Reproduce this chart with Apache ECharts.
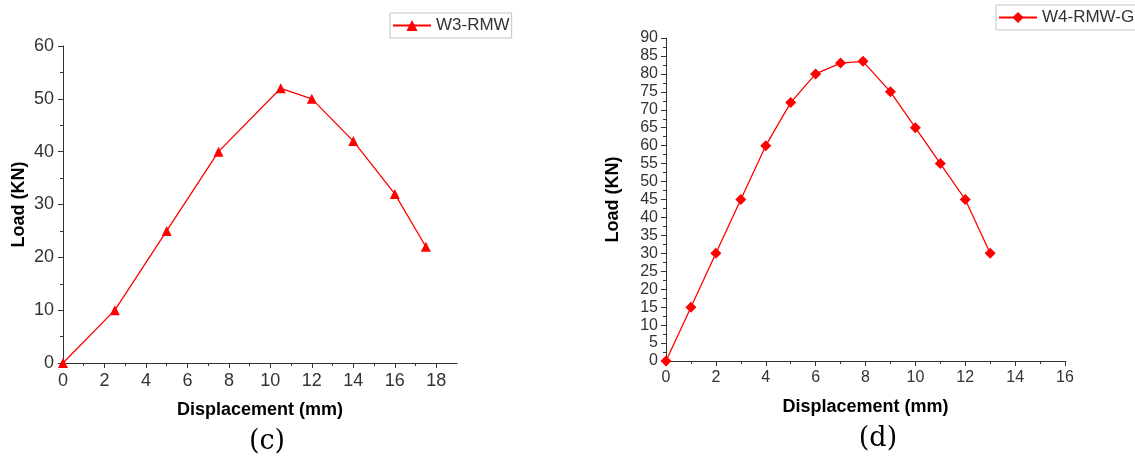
<!DOCTYPE html>
<html>
<head>
<meta charset="utf-8">
<script src="https://cdn.jsdelivr.net/npm/echarts@6/dist/echarts.min.js"></script>
<style>
  html, body { margin: 0; padding: 0; background: #fff; }
  #chart { width: 1135px; height: 461px; }
</style>
</head>
<body>
<div id="chart"></div>
<script>
// W3-RMW load–displacement readings
const w3Disp = [0, 2.5, 5, 7.5, 10.5, 12, 14, 16, 17.5];
const w3Load = [0, 10, 25, 40, 52, 50, 42, 32, 22];

// W4-RMW-G load–displacement readings
const w4Disp = [0, 1, 2, 3, 4, 5, 6, 7, 7.9, 9, 10, 11, 12, 13];
const w4Load = [0, 15, 30, 45, 60, 72, 80, 83, 83.5, 75, 65, 55, 45, 30];

// labelled ticks on the W3 displacement axis (axis runs to 19)
const w3XTicks = [0, 2, 4, 6, 8, 10, 12, 14, 16, 18];

const seriesNames = ['W3-RMW', 'W4-RMW-G'];
const captions = ['(c)', '(d)'];
const xTitle = 'Displacement (mm)';
const yTitle = 'Load (KN)';

const RED = '#ff0000';
const INK = '#333333';
const SANS = 'Liberation Sans, Arial, sans-serif';

function pairs(xs, ys) {
  return xs.map((x, i) => [x, ys[i]]);
}

function valueAxis(opts) {
  return Object.assign({
    type: 'value',
    axisLine: { show: true, lineStyle: { color: INK, width: 1 } },
    axisTick: { show: true, inside: false, length: 5, lineStyle: { color: INK } },
    minorTick: { show: true, splitNumber: 2, length: 3, lineStyle: { color: INK } },
    splitLine: { show: false },
    minorSplitLine: { show: false },
    axisLabel: { color: INK, fontFamily: SANS, fontSize: 18, margin: 9 },
    nameLocation: 'middle',
    nameTextStyle: { color: '#000', fontFamily: SANS, fontSize: 18, fontWeight: 'bold' }
  }, opts);
}

const chart = echarts.init(document.getElementById('chart'), null, { renderer: 'canvas' });

const captionStyle = { fontFamily: 'DejaVu Serif', fontSize: 27, fontWeight: 'normal', color: '#000' };

chart.setOption({
  animation: false,
  backgroundColor: '#ffffff',
  title: [
    { text: captions[0], left: 262, top: 423, textAlign: 'center', textStyle: captionStyle },
    { text: captions[1], left: 873, top: 420, textAlign: 'center', textStyle: captionStyle }
  ],
  legend: [
    {
      data: [seriesNames[0]], left: 390, top: 13,
      orient: 'horizontal', padding: [4, 2],
      borderColor: '#c4c4c4', borderWidth: 1,
      itemWidth: 38, itemHeight: 14,
      textStyle: { color: INK, fontFamily: SANS, fontSize: 17 }
    },
    {
      data: [seriesNames[1]], left: 996, top: 5,
      orient: 'horizontal', padding: [4, 2],
      borderColor: '#c4c4c4', borderWidth: 1,
      itemWidth: 38, itemHeight: 14,
      textStyle: { color: INK, fontFamily: SANS, fontSize: 17 }
    }
  ],
  grid: [
    { left: 63, top: 46, width: 394, height: 317, containLabel: false },
    { left: 666, top: 38, width: 399, height: 323, containLabel: false }
  ],
  xAxis: [
    valueAxis({
      gridIndex: 0, min: 0, max: 19, interval: 2,
      axisTick: { show: true, length: 5, lineStyle: { color: INK }, customValues: w3XTicks },
      axisLabel: { color: INK, fontFamily: SANS, fontSize: 18, margin: 9, customValues: w3XTicks },
      name: xTitle, nameGap: 38
    }),
    valueAxis({
      gridIndex: 1, min: 0, max: 16, interval: 2,
      axisLabel: { color: INK, fontFamily: SANS, fontSize: 16, margin: 9 },
      name: xTitle, nameGap: 37
    })
  ],
  yAxis: [
    valueAxis({
      gridIndex: 0, min: 0, max: 60, interval: 10,
      name: yTitle, nameGap: 35
    }),
    valueAxis({
      gridIndex: 1, min: 0, max: 90, interval: 5,
      axisLabel: { color: INK, fontFamily: SANS, fontSize: 16, margin: 8 },
      name: yTitle, nameGap: 44
    })
  ],
  series: [
    {
      name: seriesNames[0], type: 'line',
      xAxisIndex: 0, yAxisIndex: 0,
      data: pairs(w3Disp, w3Load),
      symbol: 'triangle', symbolSize: 10, showSymbol: true,
      lineStyle: { color: RED, width: 1.3 },
      itemStyle: { color: RED, borderWidth: 0 }
    },
    {
      name: seriesNames[1], type: 'line',
      xAxisIndex: 1, yAxisIndex: 1,
      data: pairs(w4Disp, w4Load),
      symbol: 'diamond', symbolSize: 11, showSymbol: true,
      lineStyle: { color: RED, width: 1.3 },
      itemStyle: { color: RED, borderWidth: 0 }
    }
  ]
});
</script>
</body>
</html>
